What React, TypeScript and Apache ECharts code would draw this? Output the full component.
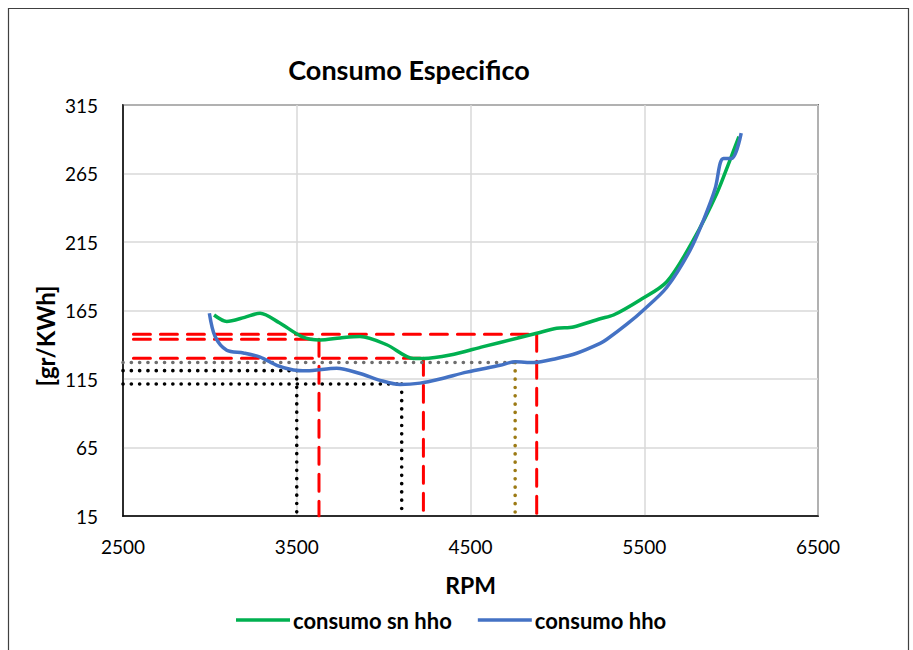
import React, { useEffect, useRef } from "react";
import * as echarts from "echarts";

const greenRpm = [3024, 3097, 3200, 3289, 3400, 3529, 3634, 3750, 3864, 4018, 4171, 4230, 4383, 4573, 4767, 4881, 4996, 5092, 5246, 5323, 5476, 5630, 5783, 5918, 5994, 6045];
const greenVal = [161.7, 157, 160, 163, 156, 146, 143.5, 145, 146, 140, 130, 130, 132.5, 138.6, 144.7, 148.4, 152, 153, 159, 161.7, 172.7, 186, 216.5, 250.6, 275, 292];

const blueRpm = [2997, 3030, 3097, 3193, 3289, 3385, 3481, 3557, 3730, 3864, 3980, 4095, 4210, 4325, 4478, 4670, 4757, 4862, 4996, 5111, 5246, 5285, 5400, 5496, 5630, 5764, 5841, 5908, 5937, 5956, 6004, 6058];
const blueVal = [163, 146, 136, 134, 131, 125, 121.6, 121, 122.8, 119, 114, 111, 112, 115, 120, 125, 127.6, 127, 130, 133.8, 141, 144, 155, 165.4, 182, 209, 231, 254, 272.5, 276, 276, 294.4];

const seriesNames = ["consumo sn hho", "consumo hho"];
const xTicks = { min: 2500, max: 6500, interval: 1000 };
const yTicks = { min: 15, max: 315, interval: 50 };

// reference lines: [rpm, value]
const redLevels = [147.6, 144, 130.1];
const redRpms = [4881, 3628, 4229];
const redStart = 2560;
const blackLevels = [121.1, 111.4];
const blackRpms = [3500, 4104];
const greyLevel = 127;
const oliveRpm = 4757;

const FONT = "Lato";

export default function App() {
  const ref = useRef<HTMLDivElement>(null);
  useEffect(() => {
    const chart = echarts.init(ref.current!, null, { renderer: "svg" });
    const ref0 = (data: number[][], color: string, type: any, width = 3) => ({
      type: "line",
      data,
      symbol: "none",
      silent: true,
      lineStyle: { color, width, type, cap: "round" },
      z: 1,
    });
    const series: any[] = [];
    redLevels.forEach((lv, i) => {
      series.push(ref0([[redStart, lv], [redRpms[i], lv]], "#FF0000", [17, 10]));
      series.push(ref0([[redRpms[i], lv], [redRpms[i], yTicks.min]], "#FF0000", [17, 10]));
    });
    blackLevels.forEach((lv, i) => {
      series.push(ref0([[xTicks.min, lv], [blackRpms[i], lv]], "#000000", [0.1, 8.2], 3.6));
      series.push(ref0([[blackRpms[i], lv], [blackRpms[i], yTicks.min]], "#000000", [0.1, 8.2], 3.6));
    });
    series.push(ref0([[xTicks.min, greyLevel], [oliveRpm, greyLevel]], "#6E6E6E", [0.1, 8.2], 3.6));
    series.push(ref0([[oliveRpm, greyLevel], [oliveRpm, yTicks.min]], "#9C7A14", [0.1, 8.2], 3.6));
    series.push({
      name: seriesNames[0],
      type: "line",
      data: greenRpm.map((x, i) => [x, greenVal[i]]),
      symbol: "none",
      smooth: 0.3,
      lineStyle: { color: "#00B050", width: 3.5 },
      itemStyle: { color: "#00B050" },
      z: 3,
    });
    series.push({
      name: seriesNames[1],
      type: "line",
      data: blueRpm.map((x, i) => [x, blueVal[i]]),
      symbol: "none",
      smooth: 0.3,
      lineStyle: { color: "#4472C4", width: 3.5 },
      itemStyle: { color: "#4472C4" },
      z: 4,
    });

    chart.setOption({
      animation: false,
      textStyle: { fontFamily: FONT },
      title: {
        text: "Consumo Especifico",
        left: 404,
        top: 51,
        textAlign: "center",
        textStyle: { fontFamily: FONT, fontWeight: "bold", fontSize: 27, color: "#000" },
      },
      graphic: [
        {
          type: "rect",
          shape: { x: 8.5, y: 8.5, width: 900, height: 680 },
          style: { fill: "none", stroke: "#404040", lineWidth: 1.2 },
          silent: true,
        },
        {
          type: "text",
          x: 45,
          y: 336,
          rotation: Math.PI / 2,
          style: {
            text: "[gr/KWh]",
            fontFamily: FONT,
            fontWeight: "bold",
            fontSize: 24,
            fill: "#000",
            align: "center",
            verticalAlign: "middle",
          },
          silent: true,
        },
      ],
      grid: {
        left: 123,
        right: 95,
        top: 105,
        bottom: 134,
        show: true,
        borderColor: "#000",
        borderWidth: 1.5,
      },
      legend: {
        data: seriesNames,
        left: 231,
        top: 604,
        itemWidth: 54,
        itemHeight: 3.5,
        itemGap: 26,
        icon: "rect",
        textStyle: { fontFamily: FONT, fontWeight: "bold", fontSize: 22, color: "#000", padding: [0, 0, 0, -2] },
      },
      xAxis: {
        type: "value",
        min: xTicks.min,
        max: xTicks.max,
        interval: xTicks.interval,
        name: "RPM",
        nameLocation: "middle",
        nameGap: 57,
        nameTextStyle: { fontFamily: FONT, fontWeight: "bold", fontSize: 23, color: "#000" },
        axisLine: { lineStyle: { color: "#000", width: 1.5 } },
        axisTick: { show: false },
        axisLabel: { margin: 21, fontSize: 19, color: "#000", fontFamily: FONT, formatter: (v: number) => String(v) },
        splitLine: { lineStyle: { color: "#D9D9D9", width: 1.5 } },
      },
      yAxis: {
        type: "value",
        min: yTicks.min,
        max: yTicks.max,
        interval: yTicks.interval,
        axisLine: { show: true, lineStyle: { color: "#000", width: 1.5 } },
        axisTick: { show: false },
        axisLabel: { margin: 25, fontSize: 19, color: "#000", fontFamily: FONT, formatter: (v: number) => String(v) },
        splitLine: { lineStyle: { color: "#D9D9D9", width: 1.5 } },
      },
      series,
    });
    return () => chart.dispose();
  }, []);
  return (
    <div
      ref={ref}
      style={{ position: "fixed", left: 0, top: 0, width: 913, height: 650, background: "#fff" }}
    />
  );
}
